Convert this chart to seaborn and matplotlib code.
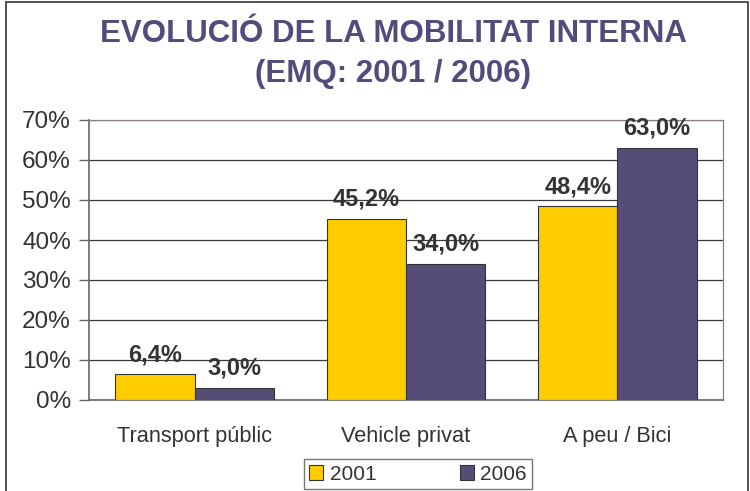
import pandas as pd
import matplotlib.pyplot as plt
import seaborn as sns
from matplotlib.patches import Rectangle

categories = ["Transport públic", "Vehicle privat", "A peu / Bici"]
years = ["2001", "2006"]
values_2001 = [6.4, 45.2, 48.4]
values_2006 = [3.0, 34.0, 63.0]
yticks = [0, 10, 20, 30, 40, 50, 60, 70]

colors = {"2001": "#FFCC00", "2006": "#554D77"}
title_color = "#514C7B"
text_color = "#333333"

df = pd.DataFrame({
    "categoria": categories * 2,
    "any": [years[0]] * 3 + [years[1]] * 3,
    "valor": values_2001 + values_2006,
})

sns.set_style("white")
plt.rcParams["font.family"] = ["Liberation Sans", "DejaVu Sans"]

fig = plt.figure(figsize=(7.5, 4.91), dpi=100)
ax = fig.add_axes([89 / 750, 1 - 400 / 491, (723 - 89) / 750, (400 - 120) / 491])

sns.barplot(data=df, x="categoria", y="valor", hue="any", palette=colors,
            saturation=1, width=0.75, edgecolor="#333333", linewidth=0.8,
            ax=ax, legend=False, zorder=3)

# Value labels
for container in ax.containers:
    labels = [f"{v:.1f}%".replace(".", ",") for v in container.datavalues]
    ax.bar_label(container, labels=labels, padding=6, fontsize=17,
                 fontweight="bold", color=text_color)

ax.set_ylim(0, 70)
ax.set_xlim(-0.5, 2.5)
ax.set_yticks(yticks)
ax.set_yticklabels([f"{t}%" for t in yticks], fontsize=17.5, color=text_color)
ax.yaxis.grid(True, color="#3A3A3A", linewidth=0.9, zorder=0)
ax.set_axisbelow(True)

ax.set_xticks(range(len(categories)))
ax.set_xticklabels(categories, fontsize=15.7, color=text_color)
ax.set_xticks([-0.5, 0.5, 1.5, 2.5], minor=True)
ax.tick_params(axis="x", which="major", length=0, pad=19)
ax.tick_params(axis="x", which="minor", length=7, width=1, color="#555555",
               direction="out")
ax.tick_params(axis="y", length=7, width=1, color="#666666", direction="out",
               left=True, pad=6)
ax.set_xlabel("")
ax.set_ylabel("")

for side in ["left", "bottom"]:
    ax.spines[side].set_color("#666666")
    ax.spines[side].set_linewidth(1.2)
for side in ["top", "right"]:
    ax.spines[side].set_color("#8B7F7F")
    ax.spines[side].set_linewidth(0.9)

# Title
title_kw = dict(ha="center", va="center", fontsize=22.5, fontweight="bold",
                color=title_color)
fig.text(0.524, 1 - 34 / 491, "EVOLUCIÓ DE LA MOBILITAT INTERNA", **title_kw)
fig.text(0.524, 1 - 74 / 491, "(EMQ: 2001 / 2006)", **title_kw)

# Legend
handles = [Rectangle((0, 0), 1, 1, facecolor=colors[y], edgecolor="#333333",
                     linewidth=0.8) for y in years]
fig.legend(handles, years, loc="center", bbox_to_anchor=(418 / 750, 1 - 474 / 491),
           ncol=2, fontsize=15, frameon=True, fancybox=False, edgecolor="#555555",
           handlelength=0.7, handleheight=0.7, handletextpad=0.3,
           columnspacing=4.0, borderpad=0.25, labelcolor=text_color)

# Outer chart border
fig.patches.append(Rectangle((6 / 750, -0.01), 742 / 750, 1 - 2 / 491 + 0.01,
                             transform=fig.transFigure, fill=False,
                             edgecolor="#333333", linewidth=1.2))

fig.savefig("out.png", dpi=100)
